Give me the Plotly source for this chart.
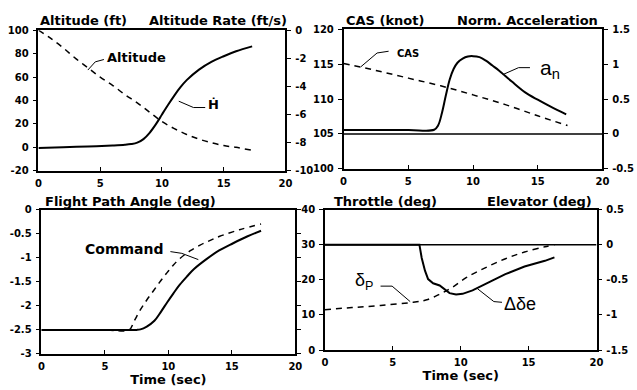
import plotly.graph_objects as go

# ---------------- data ----------------
# Panel 1: Altitude (ft, left) and altitude rate (ft/s, right)
alt_t = [0, 1, 2, 3, 4, 5, 6, 7, 8, 9, 10, 11, 12, 13, 14, 15, 16, 17.3]
alt_v = [100, 93, 85, 76, 68, 60, 53, 45, 38, 30, 22, 16, 11, 7, 4, 1.5, 0, -2.5]
hdot_t = [0, 2, 4, 6, 7, 7.5, 8, 8.5, 9, 9.5, 10, 10.5, 11, 11.5, 12, 13, 14, 15, 16, 17.3]
hdot_v = [-8.38, -8.33, -8.27, -8.2, -8.15, -8.1, -8.0, -7.75, -7.3, -6.7, -6.0, -5.3,
          -4.65, -4.05, -3.55, -2.8, -2.25, -1.85, -1.5, -1.15]

# Panel 2: CAS (knot, left) and normal acceleration (right)
cas_t = [0, 2.5, 5, 7.5, 10, 12.5, 15, 17.3]
cas_v = [115.1, 114.1, 113.0, 111.9, 110.6, 109.2, 107.6, 106.2]
an_t = [0, 5, 7, 7.3, 7.6, 7.9, 8.2, 8.5, 8.8, 9.2, 9.6, 10, 10.5, 11, 11.5, 12, 13, 14, 15, 16, 17.2]
an_v = [0.055, 0.055, 0.06, 0.12, 0.3, 0.55, 0.78, 0.93, 1.02, 1.08, 1.11, 1.115, 1.1,
        1.05, 0.98, 0.91, 0.75, 0.6, 0.49, 0.39, 0.28]

# Panel 3: Flight path angle (deg): actual and command
fpa_t = [0, 5, 7.5, 7.8, 8.3, 8.9, 9.4, 9.9, 10.4, 10.9, 11.5, 12.0, 13.0, 14.0, 15.1, 16.2, 17.3]
fpa_v = [-2.5, -2.5, -2.5, -2.49, -2.43, -2.31, -2.13, -1.93, -1.74, -1.56, -1.38, -1.24,
         -1.03, -0.85, -0.7, -0.56, -0.44]
cmd_t = [0, 5, 6.9, 7.3, 7.8, 8.3, 8.9, 9.4, 9.9, 10.4, 10.9, 11.7, 12.5, 13.3, 14.0, 15.6, 17.3]
cmd_v = [-2.5, -2.5, -2.5, -2.32, -2.08, -1.88, -1.66, -1.48, -1.31, -1.15, -1.02, -0.86,
         -0.74, -0.64, -0.56, -0.42, -0.3]

# Panel 4: Throttle (deg, left) and elevator (deg, right)
thr_t = [0, 2, 4.1, 6.5, 7.5, 8.4, 8.9, 9.4, 10.4, 11.8, 13.3, 14.7, 16.2, 16.9]
thr_v = [11.5, 12.1, 12.7, 13.6, 14.3, 15.8, 16.8, 17.9, 20.6, 23.4, 26.0, 27.9, 29.4, 30.0]
elv_t = [0, 5, 6.96, 7.13, 7.37, 7.6, 7.97, 8.45, 8.8, 9.18, 9.66, 10.14, 10.87, 11.84,
         13.29, 14.7, 16.2, 16.9]
elv_v = [0, 0, 0, -0.19, -0.37, -0.49, -0.55, -0.58, -0.63, -0.69, -0.71, -0.70, -0.65,
         -0.56, -0.42, -0.31, -0.23, -0.18]

x_ticks = [0, 5, 10, 15, 20]
alt_ticks = [-20, 0, 20, 40, 60, 80, 100]
hdot_ticks = [-10, -8, -6, -4, -2, 0]
cas_ticks = [100, 105, 110, 115, 120]
an_ticks = [-0.5, 0, 0.5, 1, 1.5]
fpa_ticks = [-3, -2.5, -2, -1.5, -1, -0.5, 0]
thr_ticks = [0, 10, 20, 30, 40]
elv_ticks = [-1.5, -1, -0.5, 0, 0.5]

# ------------- annotation geometry (labels + leader lines) -------------
leaders = {
    "alt": ([4.0, 4.6, 5.3], [66, 73, 75], "x", "y"),
    "hdot": ([11.36, 12.55, 13.5], [-5.05, -5.5, -5.5], "x", "y2"),
    "cas": ([1.32, 2.59, 3.48], [114.6, 116.6, 116.85], "x2", "y3"),
    "an": ([12.3, 13.52, 14.4], [0.85, 0.95, 0.95], "x2", "y4"),
    "cmd": ([10.16, 11.06, 12.36], [-0.874, -0.91, -1.04], "x3", "y5"),
    "thr": ([4.1, 4.95, 6.28], [18.2, 18.2, 13.8], "x4", "y6"),
    "elv": ([11.23, 12.44, 13.04], [-0.626, -0.81, -0.82], "x4", "y7"),
}

FONT = "DejaVu Sans"
tickfont = dict(family=FONT, size=10, color="black", weight="bold")
LW = 1.5

fig = go.Figure()

solid = dict(color="black", width=2)
dashed = dict(color="black", width=1.5, dash="6px,5px")

fig.add_trace(go.Scatter(x=alt_t, y=alt_v, mode="lines", line=dashed, xaxis="x", yaxis="y", line_shape="spline"))
fig.add_trace(go.Scatter(x=hdot_t, y=hdot_v, mode="lines", line=solid, xaxis="x", yaxis="y2", line_shape="spline"))
fig.add_trace(go.Scatter(x=cas_t, y=cas_v, mode="lines", line=dashed, xaxis="x2", yaxis="y3", line_shape="spline"))
fig.add_trace(go.Scatter(x=an_t, y=an_v, mode="lines", line=solid, xaxis="x2", yaxis="y4", line_shape="spline"))
fig.add_trace(go.Scatter(x=cmd_t, y=cmd_v, mode="lines", line=dashed, xaxis="x3", yaxis="y5", line_shape="spline"))
fig.add_trace(go.Scatter(x=fpa_t, y=fpa_v, mode="lines", line=solid, xaxis="x3", yaxis="y5", line_shape="spline"))
fig.add_trace(go.Scatter(x=thr_t, y=thr_v, mode="lines", line=dashed, xaxis="x4", yaxis="y6", line_shape="spline"))
fig.add_trace(go.Scatter(x=elv_t, y=elv_v, mode="lines", line=solid, xaxis="x4", yaxis="y7", line_shape="linear"))

# zero reference lines
fig.add_trace(go.Scatter(x=[0, 20], y=[0, 0], mode="lines", line=dict(color="black", width=1.5), xaxis="x2", yaxis="y4"))
fig.add_trace(go.Scatter(x=[0, 20], y=[0, 0], mode="lines", line=dict(color="black", width=1.5), xaxis="x4", yaxis="y7"))

for k, (lx, ly, xa, ya) in leaders.items():
    fig.add_trace(go.Scatter(x=lx, y=ly, mode="lines", line=dict(color="black", width=1),
                             xaxis=xa, yaxis=ya))

W, H = 637, 390


def dx(a, b):
    return [a / W, b / W]


def dy(top, bottom):
    return [1 - bottom / H, 1 - top / H]


def lab(v):
    return ("%g" % v)  # ASCII hyphen for negatives, as in the original


def xax(domain, anchor, title=None):
    d = dict(domain=domain, anchor=anchor, range=[0, 20], tickvals=x_ticks,
             ticktext=[lab(v) for v in x_ticks],
             showline=True, linecolor="black", linewidth=LW, mirror=True,
             ticks="inside", ticklen=4, tickwidth=1, tickcolor="black",
             showgrid=False, zeroline=False, tickfont=tickfont, ticklabelstandoff=2)
    if title:
        d["title"] = dict(text=title, font=dict(family=FONT, size=13, color="black", weight="bold"), standoff=2)
    return d


def yax(domain, anchor, rng, vals, side="left", overlay=None, mirror=False):
    d = dict(domain=domain, anchor=anchor, range=rng, tickvals=vals,
             ticktext=[lab(v) for v in vals], side=side,
             showline=True, linecolor="black", linewidth=LW, mirror=mirror,
             ticks="outside", ticklen=4, tickwidth=1, tickcolor="black",
             showgrid=False, zeroline=False, tickfont=tickfont, ticklabelstandoff=2)
    if overlay:
        d["overlaying"] = overlay
    return d


d1x, d1y = dx(36, 287), dy(25, 170)
d2x, d2y = dx(346, 609), dy(24, 168)
d3x, d3y = dx(39, 297), dy(210, 359)
d4x, d4y = dx(327, 603), dy(210, 355)

fig.update_layout(
    width=W, height=H, margin=dict(l=0, r=0, t=0, b=0),
    paper_bgcolor="white", plot_bgcolor="white", showlegend=False,
    xaxis=xax(d1x, "y"),
    yaxis=yax(d1y, "x", [-20, 100], alt_ticks),
    yaxis2=yax(d1y, "x", [-10, 0], hdot_ticks, side="right", overlay="y"),
    xaxis2=xax(d2x, "y3"),
    yaxis3=yax(d2y, "x2", [100, 120], cas_ticks),
    yaxis4=yax(d2y, "x2", [-0.5, 1.5], an_ticks, side="right", overlay="y3"),
    xaxis3=xax(d3x, "y5", "Time (sec)"),
    yaxis5=yax(d3y, "x3", [-3, 0], fpa_ticks, mirror="ticks"),
    xaxis4=xax(d4x, "y6", "Time (sec)"),
    yaxis6=yax(d4y, "x4", [0, 40], thr_ticks),
    yaxis7=yax(d4y, "x4", [-1.5, 0.5], elv_ticks, side="right", overlay="y6"),
)

tfont = dict(family=FONT, size=13, color="black", weight="bold")
titles = [
    ("Altitude (ft)", 36, 15, "left"),
    ("Altitude Rate (ft/s)", 291, 15, "right"),
    ("CAS (knot)", 346, 15, "left"),
    ("Norm. Acceleration", 607, 15, "right"),
    ("Flight Path Angle (deg)", 41, 202, "left"),
    ("Throttle (deg)", 334, 202, "left"),
    ("Elevator (deg)", 600, 202, "right"),
]
for txt, px, py, al in titles:
    fig.add_annotation(text=txt, x=px / W, y=1 - py / H, xref="paper", yref="paper",
                       xanchor=al, yanchor="middle", showarrow=False, font=tfont)

labels = [
    ("Altitude", 5.4, 77, "x", "y", "left", dict(family=FONT, size=13, color="black", weight="bold")),
    ("Ḣ", 14.2, -5.3, "x", "y2", "center", dict(family=FONT, size=13, color="black", weight="bold")),
    ("CAS", 3.95, 116.5, "x2", "y3", "left", dict(family=FONT, size=10, color="black", weight="bold")),
    ("a<sub>n</sub>", 15.0, 0.93, "x2", "y4", "left", dict(family="Liberation Sans", size=21, color="black")),
    ("Command", 3.3, -0.81, "x3", "y5", "left", dict(family=FONT, size=14, color="black", weight="bold")),
    ("δ<sub>P</sub>", 2.9, 19.6, "x4", "y6", "center", dict(family="Liberation Sans", size=18, color="black")),
    ("Δδe", 13.05, -0.84, "x4", "y7", "left", dict(family="Liberation Sans", size=18, color="black")),
]
for txt, xx, yy, xa, ya, al, f in labels:
    fig.add_annotation(text=txt, x=xx, y=yy, xref=xa, yref=ya, xanchor=al, yanchor="middle",
                       showarrow=False, font=f)

fig.write_html("out.html")
